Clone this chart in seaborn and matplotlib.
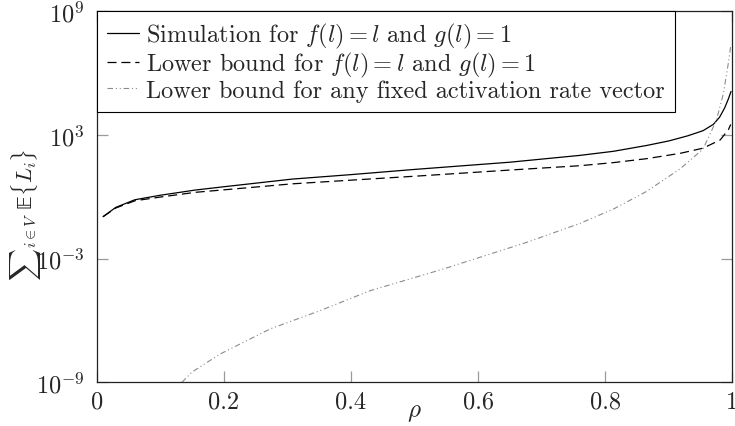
import numpy as np
import pandas as pd
import matplotlib
matplotlib.use("Agg")
import matplotlib.pyplot as plt
import seaborn as sns

# ---- data ----
rho_sim = [0.01, 0.03, 0.06, 0.10, 0.155, 0.20, 0.307, 0.40, 0.50, 0.65, 0.76, 0.813,
           0.865, 0.90, 0.93, 0.954, 0.97, 0.98, 0.988, 0.994, 0.998]
val_sim = [0.107, 0.302, 0.708, 1.17, 2.09, 3.02, 7.08, 11.7, 20.9, 46.8, 100, 158,
           302, 501, 891, 1580, 3160, 7080, 20000, 56200, 126000]

rho_lb = [0.01, 0.03, 0.06, 0.10, 0.155, 0.20, 0.307, 0.40, 0.50, 0.65, 0.76, 0.813,
          0.865, 0.918, 0.954, 0.981, 0.994, 0.9975]
val_lb = [0.107, 0.282, 0.631, 0.955, 1.62, 2.14, 4.17, 6.31, 9.77, 19.5, 31.6, 44.7,
          69.2, 126, 224, 562, 1780, 3160]

rho_any = [0.134, 0.15, 0.194, 0.273, 0.351, 0.43, 0.545, 0.677, 0.76, 0.813, 0.865,
           0.918, 0.954, 0.975, 0.986, 0.994, 0.9975]
val_any = [1e-9, 3.16e-9, 2.34e-8, 3.89e-7, 2.95e-6, 2.75e-5, 3.09e-4, 6.17e-3, 5.01e-2,
           0.251, 1.78, 22.4, 204, 5010, 100000, 3.24e6, 1.91e7]

labels = [r"Simulation for $f(l) = l$ and $g(l) = 1$",
          r"Lower bound for $f(l) = l$ and $g(l) = 1$",
          r"Lower bound for any fixed activation rate vector"]

xticks = [0, 0.2, 0.4, 0.6, 0.8, 1]
xticklabels = ["0", "0.2", "0.4", "0.6", "0.8", "1"]
yticks = [1e-9, 1e-3, 1e3, 1e9]
yticklabels = [r"$10^{-9}$", r"$10^{-3}$", r"$10^{3}$", r"$10^{9}$"]

# ---- style ----
sns.set_style("ticks")
plt.rcParams.update({
    "font.family": ["serif"],
    "font.serif": ["cmr10", "DejaVu Serif"],
    "mathtext.fontset": "cm",
    "axes.formatter.use_mathtext": True,
    "lines.scale_dashes": False,
    "axes.unicode_minus": False,
})

fig = plt.figure(figsize=(7.35, 4.27), dpi=100)
ax = fig.add_axes([0.1316, 0.1023, 0.8647, 0.8696])

df_sim = pd.DataFrame({"rho": rho_sim, "val": val_sim})
df_lb = pd.DataFrame({"rho": rho_lb, "val": val_lb})
df_any = pd.DataFrame({"rho": rho_any, "val": val_any})

sns.lineplot(data=df_sim, x="rho", y="val", ax=ax, color="black", lw=0.9,
             label=labels[0], estimator=None, sort=False)
sns.lineplot(data=df_lb, x="rho", y="val", ax=ax, color="black", lw=0.9,
             label=labels[1], estimator=None, sort=False)
sns.lineplot(data=df_any, x="rho", y="val", ax=ax, color="#8c8c8c", lw=0.8,
             label=labels[2], estimator=None, sort=False)

lines = ax.get_lines()
lines[1].set_dashes((6.5, 3.5))
lines[2].set_dashes((4, 2, 0.8, 2, 0.8, 2))

ax.set_yscale("log")
ax.set_xlim(0, 1)
ax.set_ylim(1e-9, 1e9)
ax.set_xticks(xticks)
ax.set_xticklabels(xticklabels)
ax.set_yticks(yticks)
ax.set_yticklabels(yticklabels)
ax.minorticks_off()
ax.tick_params(direction="in", length=8, width=0.9, color="#9a9a9a",
               top=True, right=True, labelsize=17.5)
ax.tick_params(axis="x", pad=6)
ax.tick_params(axis="y", pad=9)

for s in ax.spines.values():
    s.set_color("#222222")
    s.set_linewidth(0.9)
    s.set_visible(True)

ax.set_xlabel(r"$\rho$", fontsize=18)
ax.xaxis.set_label_coords(0.5, -0.05)
ax.set_ylabel("${\\sum}_{i\\in V}\\ \U0001D53C\\{L_i\\}$", fontsize=16)
ax.yaxis.set_label_coords(-0.084, 0.455)

handles = ax.get_lines()
leg = ax.legend(handles, labels, loc="upper left", bbox_to_anchor=(0, 1),
                borderaxespad=0, frameon=True, fancybox=False, edgecolor="black",
                framealpha=1, handlelength=1.3, handletextpad=0.3,
                labelspacing=0.0, borderpad=0.42, fontsize=17.5)
leg.get_frame().set_linewidth(0.8)

fig.savefig("out.png", dpi=100)
